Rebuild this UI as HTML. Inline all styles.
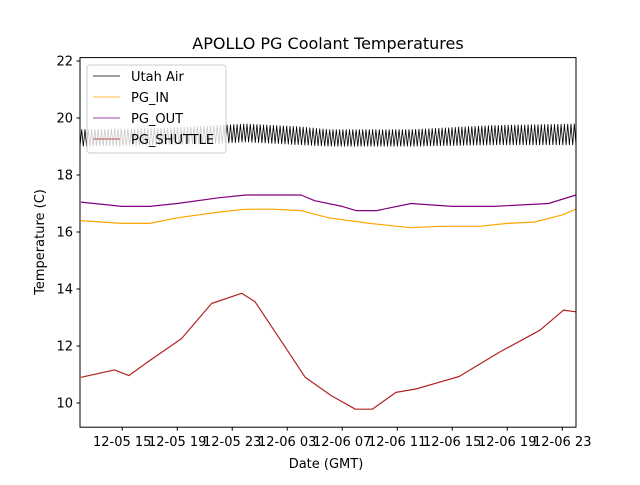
<!DOCTYPE html>
<html><head><meta charset="utf-8"><style>
body{margin:0;background:#fff}
svg{font-family:"DejaVu Sans","Liberation Sans",sans-serif}
</style></head><body>
<svg id="chart" width="640" height="480" xmlns="http://www.w3.org/2000/svg">
<rect width="640" height="480" fill="#fff"/>
<text x="328" y="49" font-size="16" text-anchor="middle">APOLLO PG Coolant Temperatures</text>
<g id="plot"></g>
<g id="axes"></g>
<text x="326" y="468" font-size="13" text-anchor="middle">Date (GMT)</text>
<text transform="translate(44,242) rotate(-90)" font-size="13" text-anchor="middle">Temperature (C)</text>
<g>
<rect x="87" y="65" width="139" height="88" rx="3" fill="#fff" fill-opacity="0.8" stroke="#ccc"/>
<line x1="93" y1="76" x2="120" y2="76" stroke="#000" stroke-width="0.8"/>
<text x="131" y="81" font-size="13">Utah Air</text>
<line x1="93" y1="97" x2="120" y2="97" stroke="#ffa500" stroke-width="0.8"/>
<text x="131" y="102" font-size="13">PG_IN</text>
<line x1="93" y1="118" x2="120" y2="118" stroke="#800080" stroke-width="0.8"/>
<text x="131" y="123" font-size="13">PG_OUT</text>
<line x1="93" y1="139" x2="120" y2="139" stroke="#b22222" stroke-width="0.8"/>
<text x="131" y="144" font-size="13">PG_SHUTTLE</text>
</g>
</svg>
<script>
// hours since 12-05 12:00 GMT
const shuttleHours=[0,2.44,3.48,4.86,7.31,9.5,11.68,12.66,14.85,16.31,18.23,19.96,21.19,22.9,24.36,27.5,30.45,33.37,35.1,36];
const shuttleVals=[10.9,11.16,10.96,11.44,12.26,13.49,13.85,13.55,11.96,10.9,10.25,9.78,9.78,10.37,10.49,10.93,11.79,12.55,13.26,13.2];
const inHours=[0,3,5,7,10,12,14,16,18,21,24,26,29,31,33,35,36];
const inVals=[16.4,16.3,16.3,16.5,16.7,16.8,16.8,16.75,16.5,16.3,16.15,16.2,16.2,16.3,16.35,16.6,16.8];
const outHours=[0,3,5,7,10,12,14,16,17,19,20,21.5,24,27,30,34,36];
const outVals=[17.05,16.9,16.9,17.0,17.2,17.3,17.3,17.3,17.1,16.9,16.75,16.75,17.0,16.9,16.9,17.0,17.3];
const airHours=[0,6,10,12,14,16,18,24,30,36];
const airLow=[19.0,19.05,19.1,19.15,19.1,19.05,19.0,19.0,19.05,19.05];
const airHigh=[19.6,19.65,19.75,19.8,19.75,19.7,19.6,19.6,19.75,19.8];
const yTicks=[10,12,14,16,18,20,22];
const xTickLabels=["12-05 15","12-05 19","12-05 23","12-06 03","12-06 07","12-06 11","12-06 15","12-06 19","12-06 23"];
const xTickHours=[3,7,11,15,19,23,27,31,35];

const L=80,R=576,T=57.6,B=427.2,H0=-0.07,H1=36.0,Y0=9.15,Y1=22.12;
const X=h=>L+(h-H0)/(H1-H0)*(R-L);
const Y=v=>B-(v-Y0)/(Y1-Y0)*(B-T);
const NS="http://www.w3.org/2000/svg";
const plot=document.getElementById('plot'),axes=document.getElementById('axes');
function mk(tag,attrs,parent){const e=document.createElementNS(NS,tag);for(const k in attrs)e.setAttribute(k,attrs[k]);parent.appendChild(e);return e;}
function interp(hs,vs,h){for(let i=0;i<hs.length-1;i++){if(h<=hs[i+1]){const t=(h-hs[i])/(hs[i+1]-hs[i]);return vs[i]+t*(vs[i+1]-vs[i]);}}return vs[vs.length-1];}
let pa=[];const n=300;
for(let i=0;i<=n;i++){const h=H0+(H1-H0)*i/n;const v=i%2?interp(airHours,airHigh,h):interp(airHours,airLow,h);pa.push(X(h).toFixed(1)+","+Y(v).toFixed(1));}
const air=mk('polyline',{points:pa.join(" "),fill:"none",stroke:"#000","stroke-width":0.8},plot);


function line(hs,vs,color,name){const p=hs.map((h,i)=>X(h).toFixed(1)+","+Y(vs[i]).toFixed(1)).join(" ");const e=mk('polyline',{points:p,fill:"none",stroke:color,"stroke-width":1.2,"stroke-linejoin":"round"},plot);

}
line(inHours,inVals,"#ffa500","pg-in-line");
line(outHours,outVals,"#800080","pg-out-line");
line(shuttleHours,shuttleVals,"#b22222","pg-shuttle-line");
const frame=mk('rect',{x:L,y:T,width:R-L,height:B-T,fill:"none",stroke:"#000","stroke-width":1},axes);


yTicks.forEach(v=>{const y=Y(v);mk('line',{x1:L-3.5,x2:L,y1:y,y2:y,stroke:"#000"},axes);
const t=mk('text',{x:L-7,y:y+4.5,"font-size":13,"text-anchor":"end"},axes);t.textContent=v;

});
xTickHours.forEach((h,i)=>{const x=X(h);mk('line',{x1:x,x2:x,y1:B,y2:B+3.5,stroke:"#000"},axes);
const t=mk('text',{x:x,y:B+19,"font-size":13,"text-anchor":"middle"},axes);t.textContent=xTickLabels[i];

});
</script>
</body></html>
